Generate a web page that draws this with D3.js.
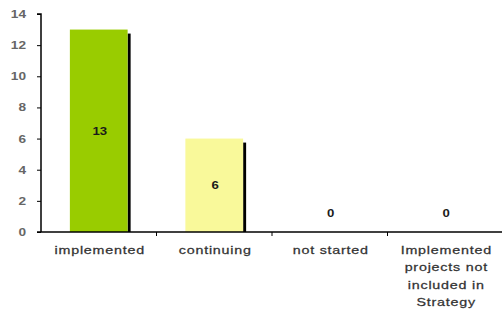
<!DOCTYPE html>
<html><head><meta charset="utf-8">
<script src="https://cdn.jsdelivr.net/npm/d3@7"></script>
<style>body{margin:0;background:#fff}svg{display:block}</style>
</head><body><svg id="c" width="502" height="320"></svg>
<script>
const categories = ["implemented", "continuing", "not started", "Implemented projects not included in Strategy"];
const labelLines = [["implemented"], ["continuing"], ["not started"], ["Implemented", "projects not", "included in", "Strategy"]];
const values = [13, 6, 0, 0];
const colors = ["#99CC00", "#F9F99A", "#99CC00", "#F9F99A"];
const yTicks = [0, 2, 4, 6, 8, 10, 12, 14];

const svg = d3.select("#c");
const pL = 41, pR = 503, pT = 14, pB = 232;
const FONT = "Liberation Sans, Arial, sans-serif";
const SX = 1.3;
const x = d3.scaleBand().domain(categories).range([pL, pR]).paddingInner(0).paddingOuter(0);
const y = d3.scaleLinear().domain([0, 14]).range([pB, pT]);
const bw = x.bandwidth() * 0.5;

// shadows
svg.append("g").selectAll("rect").data(values).join("rect")
  .attr("x", (d, i) => x(categories[i]) + (x.bandwidth() - bw) / 2 + bw)
  .attr("y", d => y(d) + 4)
  .attr("width", 3)
  .attr("height", d => Math.max(0, pB - y(d) - 4))
  .attr("fill", "#000");
// bars
svg.append("g").selectAll("rect").data(values).join("rect")
  .attr("x", (d, i) => x(categories[i]) + (x.bandwidth() - bw) / 2)
  .attr("y", d => y(d))
  .attr("width", bw)
  .attr("height", d => pB - y(d))
  .attr("fill", (d, i) => colors[i]);
// value labels
svg.append("g").selectAll("g").data(values).join("g")
  .attr("transform", (d, i) => `translate(${x(categories[i]) + x.bandwidth() / 2 + 1},${d > 0 ? (y(d) + pB) / 2 + 4 : pB - 15}) scale(1.2,1)`)
  .append("text")
  .attr("text-anchor", "middle")
  .attr("font-family", FONT).attr("font-weight", "bold")
  .attr("font-size", 11).attr("fill", "#1a1a1a")
  .text(d => d);

// y axis (line + ticks from d3 axis, labels stretched)
const ya = svg.append("g").attr("transform", `translate(${pL},0)`)
  .call(d3.axisLeft(y).tickValues(yTicks).tickSize(4).tickFormat(""));
ya.select(".domain").attr("stroke", "#000").attr("stroke-width", 1.5).attr("d", `M-4,${pT}H0V${pB}`);
ya.selectAll(".tick line").attr("stroke", "#000");
svg.append("g").selectAll("g").data(yTicks).join("g")
  .attr("transform", d => `translate(26,${y(d) + 4}) scale(${SX},1)`)
  .append("text")
  .attr("text-anchor", "end")
  .attr("font-family", FONT).attr("font-weight", "bold")
  .attr("font-size", 10.5).attr("fill", "#666")
  .text(d => d);

// x axis
const xa = svg.append("g").attr("transform", `translate(0,${pB})`);
xa.append("line").attr("x1", pL - 4).attr("x2", pR).attr("y1", 0).attr("y2", 0).attr("stroke", "#000").attr("stroke-width", 1.5);
xa.selectAll("line.t").data(categories).join("line").attr("class", "t")
  .attr("x1", d => x(d) + x.bandwidth()).attr("x2", d => x(d) + x.bandwidth())
  .attr("y1", 0).attr("y2", 4).attr("stroke", "#000");
const lab = xa.selectAll("g.lab").data(categories).join("g").attr("class", "lab")
  .attr("transform", d => `translate(${x(d) + x.bandwidth() / 2 + 1},22) scale(${SX},1)`)
  .append("text")
  .attr("text-anchor", "middle")
  .attr("font-family", FONT)
  .attr("font-size", 11).attr("letter-spacing", 0.6).attr("fill", "#333")
  .attr("stroke", "#333").attr("stroke-width", 0.25);
lab.each(function (d, i) {
  d3.select(this).selectAll("tspan").data(labelLines[i]).join("tspan")
    .attr("x", 0)
    .attr("dy", (t, j) => j === 0 ? 0 : 17.5)
    .text(t => t);
});
</script></body></html>
